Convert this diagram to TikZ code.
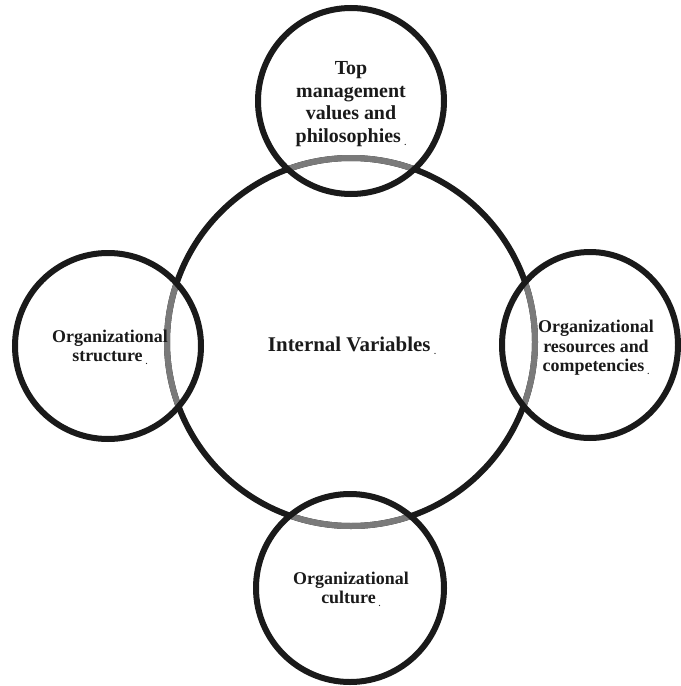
\documentclass[tikz,border=0pt]{standalone}
\usepackage{fontspec}
\setmainfont{Liberation Serif}
\newcommand{\trailmark}{\,\raisebox{-0.35ex}{\fontsize{8}{8}\selectfont .}}
\begin{document}
\begin{tikzpicture}[x=1bp,y=-1bp,
  ring/.style={draw=ringcol,line width=6bp},
  overlap/.style={draw=overlapcol,line width=6bp},
  lbl/.style={align=center,font=\bfseries\fontsize{18}{19.5}\selectfont,text=ringcol,inner sep=0pt},
  biglbl/.style={lbl,font=\bfseries\fontsize{20}{22.5}\selectfont}]
\definecolor{ringcol}{HTML}{1A1A1A}
\definecolor{overlapcol}{HTML}{7A7A7A}
\useasboundingbox[fill=white] (0,0) rectangle (681,686);

% centre and satellite circles
\coordinate (cM) at (351,342);
\coordinate (cT) at (351,101);
\coordinate (cL) at (108,346);
\coordinate (cR) at (590,345);
\coordinate (cB) at (350,588);

% main circle
\draw[ring] (cM) circle[radius=184];

% parts of the main circle lying inside a satellite are shown in grey
\foreach \c/\rx/\ry in {cT/92/92,cL/92/92,cR/86/91,cB/92/92}{
  \begin{scope}
    \clip (\c) ellipse[x radius=\rx,y radius=\ry];
    \draw[overlap] (cM) circle[radius=184];
  \end{scope}
}

% satellite circles
\draw[ring] (cT) circle[radius=93];
\draw[ring] (cL) circle[radius=93];
\draw[ring] (cR) ellipse[x radius=88,y radius=93];
\draw[ring] (cB) circle[radius=94];

% labels
\node[biglbl,font=\bfseries\fontsize{21}{22.5}\selectfont] (tM) at (352,346) {Internal Variables\trailmark};
\node[biglbl] (tT) at (351,104) {Top\\management\\values and\\philosophies\trailmark};
\node[lbl] (tL) at (110,347) {Organizational\\structure\trailmark};
\node[lbl] (tR) at (596,348) {Organizational\\resources and\\competencies\trailmark};
\node[lbl] (tB) at (351,589) {Organizational\\culture\trailmark};
\end{tikzpicture}
\end{document}
